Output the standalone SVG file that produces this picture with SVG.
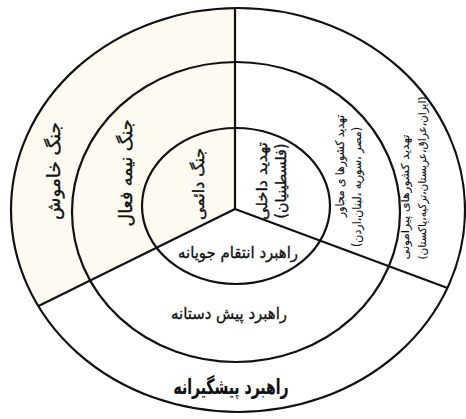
<svg xmlns="http://www.w3.org/2000/svg" width="466" height="419" viewBox="0 0 466 419">
<style>
.ring{fill:none;stroke:#111;stroke-width:2.2}
.div{stroke:#111;stroke-width:2.2;fill:none}
text{font-family:"DejaVu Sans","Noto Sans",sans-serif;fill:#111;stroke:#111;stroke-width:0.35;text-anchor:middle;dominant-baseline:central;direction:rtl}
.b{font-weight:bold;stroke-width:0.2}
.s{stroke-width:0.15}
</style>
<rect width="466" height="419" fill="#fff"/>
<g id="sector-fill">
<path d="M235,209 L235,8 A227,202 0 0 0 38.5,306 Z" fill="#fcfaf1"/>
</g>
<g id="ring-outer">
<ellipse class="ring" cx="238" cy="210" rx="227" ry="202"/>
</g>
<g id="ring-middle">
<ellipse class="ring" cx="236" cy="212" rx="164" ry="150"/>
</g>
<g id="ring-inner">
<ellipse class="ring" cx="236" cy="206" rx="94" ry="78"/>
</g>
<g id="connectors">
<line class="div" x1="235" y1="209" x2="235" y2="8"/>
<line class="div" x1="235" y1="209" x2="38.5" y2="306"/>
<line class="div" x1="235" y1="209" x2="447.5" y2="288"/>
</g>
<g id="labels-left">
<text transform="translate(53,171) rotate(-90)" font-size="18" textLength="98" lengthAdjust="spacingAndGlyphs">جنگ خاموش</text>
<text transform="translate(125,173) rotate(-90)" font-size="18" textLength="107" lengthAdjust="spacingAndGlyphs">جنگ نیمه فعال</text>
<text transform="translate(198,184) rotate(-90)" font-size="16" textLength="72" lengthAdjust="spacingAndGlyphs">جنگ دائمی</text>
</g>
<g id="labels-right">
<text transform="translate(262,181) rotate(-90)" font-size="15" textLength="78" lengthAdjust="spacingAndGlyphs">تهدید داخلی</text>
<text transform="translate(281,181) rotate(-90)" font-size="15" textLength="75" lengthAdjust="spacingAndGlyphs">(فلسطینیان)</text>
<text class="s" transform="translate(340,166) rotate(-90)" font-size="12" textLength="102" lengthAdjust="spacingAndGlyphs">تهدید کشورها ی مجاور</text>
<text class="s" transform="translate(357,187) rotate(-90)" font-size="12" textLength="120" lengthAdjust="spacingAndGlyphs">(مصر ،سوریه ،لبنان،اردن)</text>
<text class="s" transform="translate(405,197) rotate(-90)" font-size="11" textLength="125" lengthAdjust="spacingAndGlyphs">تهدید کشورهای پیرامونی</text>
<text class="s" transform="translate(422,178) rotate(-90)" font-size="11" textLength="163" lengthAdjust="spacingAndGlyphs">(ایران،عراق،عربستان،ترکیه،پاکستان)</text>
</g>
<g id="labels-bottom">
<text x="238" y="252" font-size="16" textLength="120" lengthAdjust="spacingAndGlyphs">راهبرد انتقام جویانه</text>
<text x="229" y="313" font-size="16" textLength="116" lengthAdjust="spacingAndGlyphs">راهبرد پیش دستانه</text>
<text class="b" x="231" y="387" font-size="21" textLength="115" lengthAdjust="spacingAndGlyphs">راهبرد پیشگیرانه</text>
</g>
</svg>
